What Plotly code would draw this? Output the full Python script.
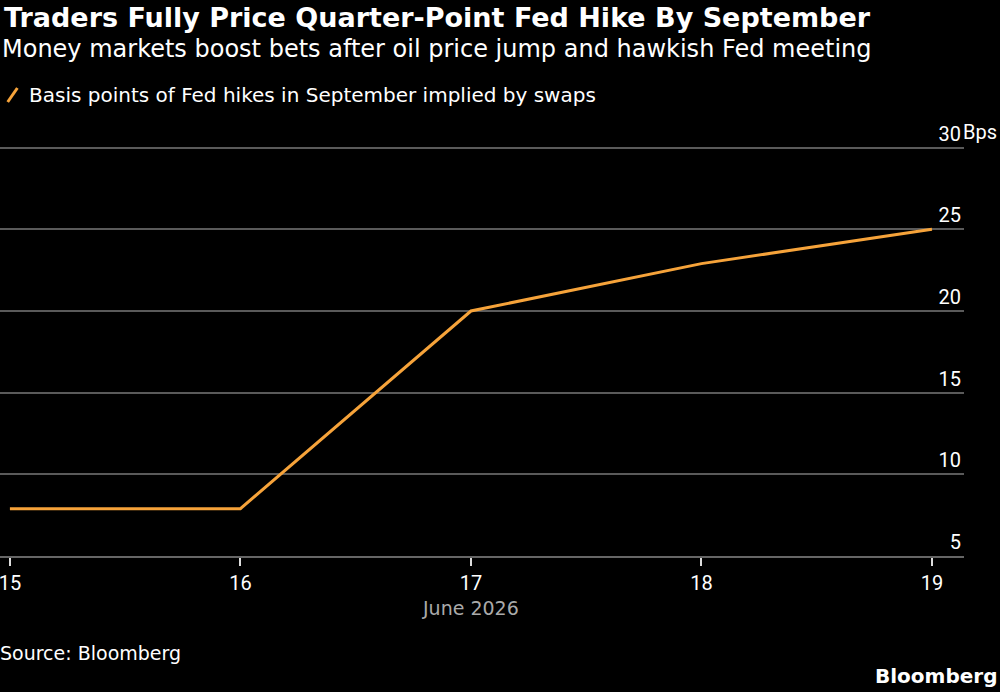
import plotly.graph_objects as go

days = [15, 16, 17, 18, 19]
hikes_bps = [7.9, 7.9, 20.0, 22.9, 25.0]
y_ticks = [5, 10, 15, 20, 25, 30]
y_tick_labels = ["5", "10", "15", "20", "25", "30"]
x_ticks = [15, 16, 17, 18, 19]
x_tick_labels = ["15", "16", "17", "18", "19"]

ORANGE = "#F6A33A"
FONT = "DejaVu Sans"
TICK_FONT = "Roboto"

fig = go.Figure()
fig.add_trace(go.Scatter(
    x=days, y=hikes_bps, mode="lines",
    line=dict(color=ORANGE, width=3),
    name="Basis points of Fed hikes in September implied by swaps",
    showlegend=False, hoverinfo="skip",
))

fig.update_layout(
    width=1000, height=692,
    margin=dict(l=0, r=36, t=115, b=136),
    paper_bgcolor="black", plot_bgcolor="black",
    font=dict(family=FONT, color="white", size=18),
    xaxis=dict(
        range=[14.957, 19.139], tickvals=x_ticks, ticktext=x_tick_labels,
        showgrid=False, zeroline=False, showline=True, linecolor="#666", linewidth=2,
        ticks="outside", ticklen=8, tickwidth=2, tickcolor="#ddd",
        tickfont=dict(size=20, color="white", family=TICK_FONT), ticklabeloverflow="allow",
    ),
    yaxis=dict(
        range=[5, 32], side="right", tickvals=y_ticks, ticktext=y_tick_labels,
        showgrid=True, gridcolor="#5a5a5a", gridwidth=2, zeroline=False, showline=False,
        ticks="", ticklabelposition="inside top",
        tickfont=dict(size=20, color="white", family=TICK_FONT),
    ),
)

annotations = [
    dict(text="<b>Traders Fully Price Quarter-Point Fed Hike By September</b>",
         x=0, y=1.2222, xref="paper", yref="paper", xanchor="left", yanchor="middle",
         showarrow=False, font=dict(size=27, color="white"), xshift=2),
    dict(text="Money markets boost bets after oil price jump and hawkish Fed meeting",
         x=0, y=1.1497, xref="paper", yref="paper", xanchor="left", yanchor="middle",
         showarrow=False, font=dict(size=24, color="white"), xshift=0),
    dict(text="Basis points of Fed hikes in September implied by swaps",
         x=0, y=1.0454, xref="paper", yref="paper", xanchor="left", yanchor="middle",
         showarrow=False, font=dict(size=20, color="white"), xshift=27),
    dict(text="Bps", x=1, y=30, xref="paper", yref="y", xanchor="left", yanchor="bottom",
         showarrow=False, font=dict(size=20, color="white", family=TICK_FONT), xshift=-3, yshift=2),
    dict(text="June 2026", x=17, y=-0.1185, xref="x", yref="paper", xanchor="center", yanchor="middle",
         showarrow=False, font=dict(size=19, color="#aaaaaa")),
    dict(text="Source: Bloomberg", x=0, y=-0.22, xref="paper", yref="paper",
         xanchor="left", yanchor="middle", showarrow=False, font=dict(size=19, color="white"), xshift=-2),
    dict(text="<b>Bloomberg</b>", x=1, y=-0.2721, xref="paper", yref="paper",
         xanchor="right", yanchor="middle", showarrow=False, font=dict(size=20, color="white"), xshift=35),
]
fig.update_layout(annotations=annotations)

fig.add_shape(type="line", xref="paper", yref="paper",
              x0=0.008, y0=1.0295, x1=0.018, y1=1.0612,
              line=dict(color=ORANGE, width=3))

fig.write_html("out.html")
